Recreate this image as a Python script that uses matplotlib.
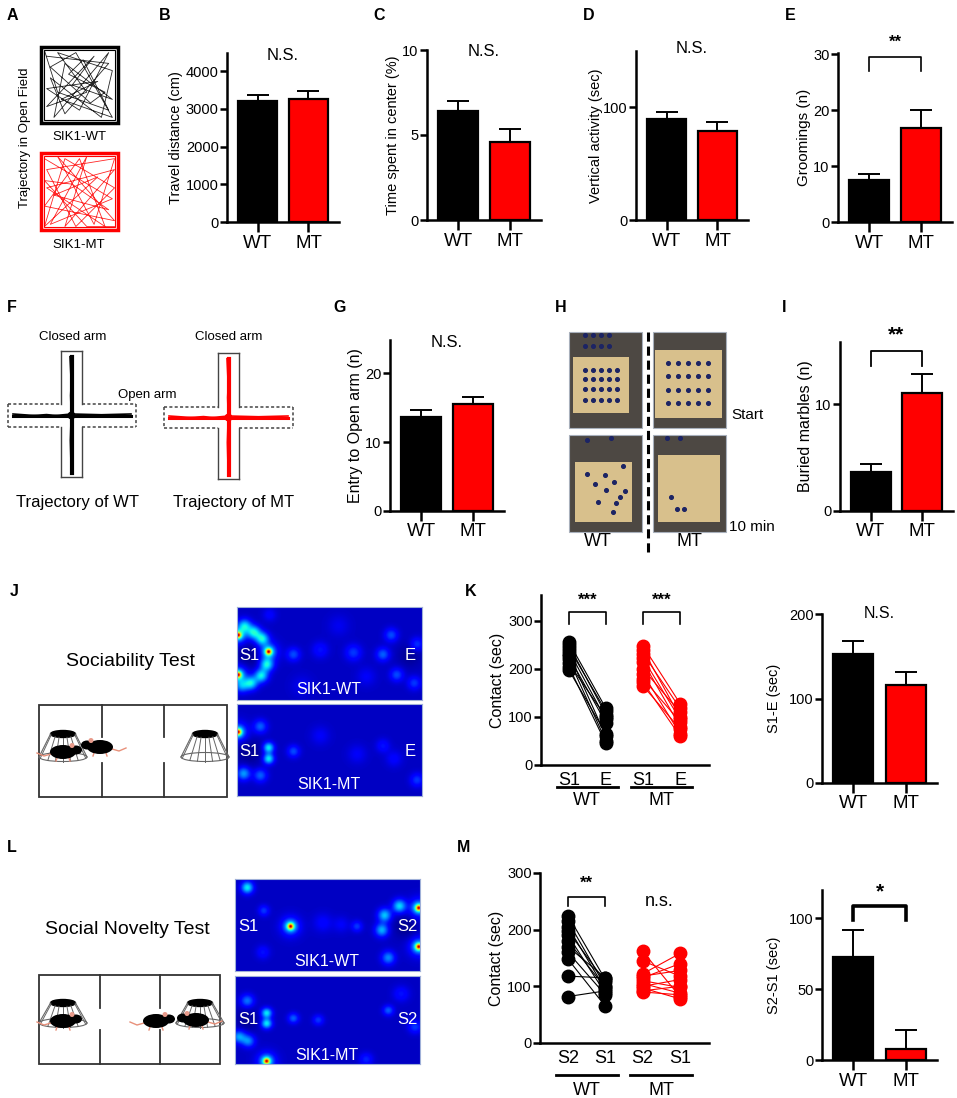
import matplotlib
matplotlib.use("Agg")
import matplotlib.pyplot as plt
import numpy as np
from matplotlib.patches import Rectangle, Ellipse

plt.rcParams['font.family'] = ['Liberation Sans', 'DejaVu Sans']

W, H = 957, 1098
RED = '#ff0000'

# ---------------- data ----------------
groups = ['WT', 'MT']
travel_mean = [3205, 3250]
travel_sem = [160, 228]
center_mean = [6.4, 4.6]
center_sem = [0.6, 0.75]
vertical_mean = [90, 79]
vertical_sem = [6, 8]
groom_mean = [7.5, 16.8]
groom_sem = [1.1, 3.2]
entry_mean = [13.6, 15.5]
entry_sem = [1.0, 1.0]
marble_mean = [3.6, 11.0]
marble_sem = [0.8, 1.8]
s1e_mean = [153, 116]
s1e_sem = [15, 15]
s2s1_mean = [73, 7.5]
s2s1_sem = [19, 13.5]

soc_wt_s1 = [256, 250, 244, 238, 232, 226, 220, 212, 205, 198]
soc_wt_e = [118, 105, 112, 95, 60, 88, 50, 100, 45, 65]
soc_mt_s1 = [248, 240, 232, 222, 215, 200, 190, 180, 172, 165]
soc_mt_e = [128, 100, 118, 95, 80, 110, 65, 90, 60, 75]

nov_wt_s2 = [225, 215, 205, 198, 190, 180, 170, 160, 148, 118, 82]
nov_wt_s1 = [112, 100, 95, 108, 88, 98, 115, 85, 65, 115, 92]
nov_mt_s2 = [162, 145, 122, 115, 110, 105, 100, 97, 92, 90, 118]
nov_mt_s1 = [82, 118, 158, 140, 98, 88, 112, 78, 100, 85, 128]

# open field trajectories (fraction of arena)
of_wt_path = [(0.05, 0.1), (0.9, 0.2), (0.3, 0.9), (0.1, 0.4), (0.8, 0.95), (0.95, 0.3),
              (0.2, 0.05), (0.6, 0.6), (0.05, 0.8), (0.7, 0.1), (0.4, 0.5), (0.95, 0.7),
              (0.3, 0.2), (0.15, 0.95), (0.9, 0.05), (0.5, 0.85), (0.05, 0.55), (0.75, 0.45),
              (0.25, 0.7), (0.95, 0.95), (0.45, 0.05), (0.1, 0.25), (0.65, 0.75), (0.85, 0.6),
              (0.35, 0.35), (0.55, 0.15), (0.9, 0.85), (0.2, 0.6), (0.02, 0.02)]
of_mt_path = [(0.02, 0.05), (0.95, 0.6), (0.1, 0.95), (0.6, 0.02), (0.3, 0.98), (0.98, 0.2),
              (0.05, 0.45), (0.85, 0.98), (0.5, 0.05), (0.02, 0.7), (0.98, 0.9), (0.2, 0.02),
              (0.7, 0.95), (0.98, 0.05), (0.05, 0.2), (0.45, 0.98), (0.98, 0.45), (0.3, 0.05),
              (0.02, 0.98), (0.75, 0.3), (0.15, 0.55), (0.9, 0.75), (0.4, 0.4), (0.02, 0.35),
              (0.6, 0.98), (0.98, 0.98)]

# marble positions inside photos (fraction of photo)
marble_cols_tl = [0.22, 0.33, 0.44, 0.55, 0.66]
marble_rows_tl = [0.40, 0.49, 0.59, 0.71]
marble_cols_tr = [0.21, 0.34, 0.48, 0.62, 0.75]
marble_rows_tr = [0.32, 0.46, 0.60, 0.74]
marbles_bl = [(0.74, 0.32), (0.24, 0.40), (0.49, 0.41), (0.61, 0.48), (0.36, 0.50), (0.51, 0.57),
              (0.77, 0.58), (0.70, 0.64), (0.40, 0.69), (0.65, 0.70), (0.60, 0.79),
              (0.24, 0.05), (0.58, 0.03)]
marbles_br = [(0.25, 0.64), (0.33, 0.76), (0.42, 0.76), (0.19, 0.03), (0.37, 0.03)]

# heat-map hot spots (x 0..2, y 0..1) and dwell rings (x, y, amplitude, width)
hot_soc_wt = [(0.01, 0.30), (0.01, 0.73), (0.34, 0.48)]
ring_soc_wt = [(0.08, 0.20, 0.26, 0.05), (0.18, 0.27, 0.3, 0.05), (0.27, 0.34, 0.3, 0.05),
               (0.32, 0.62, 0.3, 0.05), (0.26, 0.74, 0.3, 0.05), (0.15, 0.82, 0.28, 0.05),
               (0.05, 0.85, 0.2, 0.05), (0.13, 0.52, -0.05, 0.1),
               (0.61, 0.51, 0.14, 0.05), (0.90, 0.46, 0.08, 0.06), (1.26, 0.49, 0.12, 0.06),
               (1.58, 0.51, 0.16, 0.05), (1.67, 0.30, 0.14, 0.05), (1.73, 0.73, 0.14, 0.05),
               (1.95, 0.40, 0.12, 0.05), (1.92, 0.82, 0.12, 0.05), (0.35, 0.08, 0.06, 0.05),
               (1.1, 0.2, 0.04, 0.08), (1.4, 0.75, 0.05, 0.07), (0.7, 0.85, 0.04, 0.08),
               (1.87, 0.52, -0.04, 0.09)]
hot_soc_mt = [(0.01, 0.31)]
ring_soc_mt = [(0.34, 0.48, 0.3, 0.04), (0.34, 0.60, 0.3, 0.04), (0.07, 0.76, 0.22, 0.05),
               (0.61, 0.52, 0.14, 0.045), (1.58, 0.46, 0.08, 0.05), (1.95, 0.83, 0.12, 0.05),
               (0.25, 0.25, 0.16, 0.05), (0.25, 0.78, 0.16, 0.05), (0.9, 0.35, 0.05, 0.07),
               (1.3, 0.55, 0.05, 0.07), (0.13, 0.52, -0.05, 0.1), (1.7, 0.6, 0.06, 0.06)]
hot_nov_wt = [(0.60, 0.52), (1.99, 0.32), (1.99, 0.74)]
ring_nov_wt = [(0.13, 0.10, 0.3, 0.045), (1.78, 0.30, 0.28, 0.05), (1.62, 0.40, 0.26, 0.05),
               (1.59, 0.56, 0.24, 0.05), (1.66, 0.86, 0.2, 0.05), (1.32, 0.52, 0.12, 0.04),
               (0.31, 0.35, 0.12, 0.04), (0.95, 0.48, 0.06, 0.07), (0.3, 0.8, 0.08, 0.05),
               (1.85, 0.52, -0.05, 0.09), (1.15, 0.5, 0.05, 0.06)]
hot_nov_mt = [(0.34, 0.97)]
ring_nov_mt = [(0.34, 0.42, 0.3, 0.04), (0.34, 0.54, 0.3, 0.04), (0.13, 0.28, 0.18, 0.05),
               (0.04, 0.69, 0.22, 0.05), (0.14, 0.74, 0.2, 0.05), (0.63, 0.48, 0.16, 0.04),
               (0.90, 0.50, 0.12, 0.04), (1.66, 0.39, 0.16, 0.04), (1.95, 0.58, 0.12, 0.05),
               (1.42, 0.95, 0.1, 0.05), (1.8, 0.2, 0.08, 0.06), (0.13, 0.50, -0.04, 0.09)]

# ---------------- helpers ----------------
fig = plt.figure(figsize=(W / 100, H / 100), dpi=100)
ov = fig.add_axes([0, 0, 1, 1])
ov.set_xlim(0, W)
ov.set_ylim(H, 0)
ov.axis('off')


def px_axes(x0, y0, x1, y1):
    return fig.add_axes([x0 / W, 1 - y1 / H, (x1 - x0) / W, (y1 - y0) / H])


def style_axes(ax, ymax, yticks):
    for s in ['top', 'right']:
        ax.spines[s].set_visible(False)
    for s in ['left', 'bottom']:
        ax.spines[s].set_linewidth(1.8)
    ax.set_ylim(0, ymax)
    ax.set_yticks(yticks)
    ax.tick_params(axis='y', length=5, width=1.8, labelsize=10.5, pad=1)
    ax.patch.set_alpha(0)


def bar_panel(box, ymax, yticks, means, sems, ylabel, lab_fs=10.5, lab_pad=2):
    ax = px_axes(*box)
    style_axes(ax, ymax, yticks)
    ax.bar([0, 1], means, width=0.77, color=['black', RED], edgecolor='black',
           linewidth=1.6, zorder=2)
    ax.errorbar([0, 1], means, yerr=[[0, 0], sems], fmt='none', ecolor='black',
                elinewidth=1.4, capsize=8, capthick=1.4, zorder=3, clip_on=False)
    ax.set_xlim(-0.6, 1.6)
    ax.set_xticks([0, 1])
    ax.set_xticklabels(groups)
    ax.tick_params(axis='x', length=7, width=1.8, labelsize=13.5, pad=2)
    ax.set_ylabel(ylabel, fontsize=lab_fs, labelpad=lab_pad)
    return ax


def bracket(ax, x0, x1, ylo, yhi, stars, ystar, lw=1.2, fs=12):
    ax.plot([x0, x0, x1, x1], [ylo, yhi, yhi, ylo], color='black', lw=lw, clip_on=False)
    ax.text((x0 + x1) / 2, ystar, stars, ha='center', va='center', fontsize=fs,
            fontweight='bold', clip_on=False)


def paired_panel(box, ymax, yticks, pairs, ticklabels, under_y, group_y):
    ax = px_axes(*box)
    style_axes(ax, ymax, yticks)
    ax.set_xlim(-0.75, 3.78)
    for k, (a, b, col, lw) in enumerate(pairs):
        for va, vb in zip(a, b):
            ax.plot([2 * k, 2 * k + 1], [va, vb], color=col, lw=lw, zorder=2)
        ax.plot([2 * k] * len(a), a, 'o', color=col, ms=9, zorder=3, clip_on=False)
        ax.plot([2 * k + 1] * len(b), b, 'o', color=col, ms=9, zorder=3, clip_on=False)
    ax.set_xticks([0, 1, 2, 3])
    ax.set_xticklabels(ticklabels)
    ax.tick_params(axis='x', length=0, labelsize=13, pad=5)
    tr = ax.get_xaxis_transform()
    for k, g in enumerate(groups):
        ax.plot([2 * k - 0.33, 2 * k + 1.33], [under_y, under_y], color='black', lw=2,
                transform=tr, clip_on=False)
        ax.text(2 * k + 0.5, group_y, g, transform=tr, ha='center', va='center', fontsize=13)
    ax.set_ylabel('Contact (sec)', fontsize=11.5, labelpad=2)
    return ax


def heatmap(box, hots, rings, labels):
    ax = px_axes(*box)
    gx, gy = np.meshgrid(np.linspace(0, 2, 280), np.linspace(0, 1, 140))
    z = np.full(gx.shape, 0.06)
    spots = list(rings)
    for x, y in hots:
        spots += [(x, y, 0.55, 0.02), (x, y, 0.25, 0.045), (x, y, 0.12, 0.08)]
    for x, y, a, s in spots:
        z += a * np.exp(-((gx - x) ** 2 + (gy - y) ** 2) / (2 * s * s))
    ax.imshow(np.clip(z, 0.02, 0.96), cmap='jet', vmin=0, vmax=1, extent=(0, 2, 1, 0),
              aspect='auto', interpolation='bilinear')
    ax.set_xticks([])
    ax.set_yticks([])
    for s in ax.spines.values():
        s.set_color('#9fb0d8')
        s.set_linewidth(0.8)
    for x, y, t, fs in labels:
        ax.text(x, y, t, color='white', ha='center', va='center', fontsize=fs)
    return ax


def cage(cx, ytop, ybot):
    tw, bw = 12.5, 24
    ov.add_patch(Ellipse((cx, ybot), 2 * bw, 9, fill=False, ec='#666666', lw=0.8))
    for f in np.linspace(-0.95, 0.95, 7):
        ov.plot([cx + f * tw, cx + f * bw],
                [ytop + 3.5 * np.sqrt(1 - f * f), ybot + 4.5 * np.sqrt(1 - f * f)],
                color='#666666', lw=0.7)
    ov.plot([cx - tw, cx - bw], [ytop, ybot], color='#666666', lw=0.8)
    ov.plot([cx + tw, cx + bw], [ytop, ybot], color='#666666', lw=0.8)
    ov.add_patch(Ellipse((cx, ytop), 2 * tw, 7, fc='black', ec='black'))


def mouse(cx, cy, facing):
    ov.plot([cx - facing * 12, cx - facing * 19, cx - facing * 26],
            [cy + 2, cy + 4, cy + 1], color='#e8907a', lw=1, zorder=4)
    ov.add_patch(Ellipse((cx, cy), 26, 14, fc='black', zorder=5))
    ov.add_patch(Ellipse((cx + facing * 13, cy - 2), 12, 9, fc='black', zorder=5))
    ov.add_patch(Ellipse((cx + facing * 9, cy - 6.5), 5, 5, fc='#e89a8a', zorder=6))
    ov.plot([cx - 6, cx - 7], [cy + 6, cy + 9], color='#e8907a', lw=1, zorder=4)
    ov.plot([cx + 6, cx + 7], [cy + 6, cy + 9], color='#e8907a', lw=1, zorder=4)


def arena(x0, y0, x1, y1, d1, d2, gap0, gap1):
    ov.add_patch(Rectangle((x0, y0), x1 - x0, y1 - y0, fill=False, ec='#333333', lw=1.3))
    for d in (d1, d2):
        ov.plot([d, d], [y0, gap0], color='#333333', lw=1.3)
        ov.plot([d, d], [gap1, y1], color='#333333', lw=1.3)


def photo(x0, y0, x1, y1, bed, marbles):
    w, h = x1 - x0, y1 - y0
    ov.add_patch(Rectangle((x0, y0), w, h, fc='#4d4843', ec='#a8b0bc', lw=0.8))
    bx0, by0, bx1, by1 = bed
    ov.add_patch(Rectangle((x0 + bx0 * w, y0 + by0 * h), (bx1 - bx0) * w, (by1 - by0) * h,
                           fc='#d8c08c', ec='none'))
    ov.scatter([x0 + u * w for u, v in marbles], [y0 + v * h for u, v in marbles],
               s=7, c='#1c2464', zorder=3)


def cross_maze(cx0, cx1, cy0, cy1, ox0, ox1, oy0, oy1, color):
    c = '#444444'
    ov.plot([cx0, cx1], [cy0, cy0], color=c, lw=1)
    ov.plot([cx0, cx1], [cy1, cy1], color=c, lw=1)
    for x in (cx0, cx1):
        ov.plot([x, x], [cy0, oy0], color=c, lw=1)
        ov.plot([x, x], [oy1, cy1], color=c, lw=1)
    dash = dict(color=c, lw=1.1, ls=(0, (2, 1.5)))
    for y in (oy0, oy1):
        ov.plot([ox0, cx0], [y, y], **dash)
        ov.plot([cx1, ox1], [y, y], **dash)
    ov.plot([ox0, ox0], [oy0, oy1], **dash)
    ov.plot([ox1, ox1], [oy0, oy1], **dash)
    mx, my = (cx0 + cx1) / 2, (oy0 + oy1) / 2
    for dx, lw in [(-1.2, 1.6), (0, 3), (1.2, 1.6)]:
        ov.plot([mx + dx, mx - dx * 0.5, mx + dx * 0.7, mx],
                [cy0 + 6, my - 20, my + 25, cy1 - 4], color=color, lw=lw)
    for dy, lw in [(-1.5, 1.2), (0, 2.2), (1.5, 1.2)]:
        ov.plot([ox0 + 5, mx - 25, mx, mx + 30, ox1 - 5],
                [my + dy, my - dy * 0.6, my + dy, my + dy * 0.5, my + dy], color=color, lw=lw)
    ov.add_patch(Ellipse((mx, my), 8, 8, fc=color, ec='none'))


# ---------------- panel letters ----------------
for x, y, t in [(7, 15, 'A'), (159, 15, 'B'), (373, 15, 'C'), (583, 15, 'D'), (785, 15, 'E'),
                (7, 307, 'F'), (333, 307, 'G'), (555, 307, 'H'), (782, 307, 'I'),
                (10, 591, 'J'), (465, 591, 'K'), (7, 847, 'L'), (457, 847, 'M')]:
    ov.text(x, y, t, fontsize=11.5, fontweight='bold', ha='left', va='center')

# ---------------- A ----------------
for (y0, y1), path, col, lab, ly in [((47, 123), of_wt_path, 'black', 'SIK1-WT', 137),
                                     ((153, 230), of_mt_path, RED, 'SIK1-MT', 245)]:
    ov.add_patch(Rectangle((41, y0), 77, y1 - y0, fill=False, ec=col, lw=2.5))
    ov.add_patch(Rectangle((44, y0 + 3), 71, y1 - y0 - 6, fill=False, ec=col, lw=0.8))
    ov.plot([43 + u * 73 for u, v in path], [y0 + 2 + v * (y1 - y0 - 4) for u, v in path],
            color=col, lw=0.6, alpha=0.85)
    ov.text(79, ly, lab, ha='center', va='center', fontsize=9.5)
ov.text(25, 138, 'Trajectory in Open Field', rotation=90, ha='center', va='center', fontsize=9.5)

# ---------------- B-E ----------------
axB = bar_panel((227, 53, 339, 222), 4477, [0, 1000, 2000, 3000, 4000], travel_mean, travel_sem,
                'Travel distance (cm)')
axB.text(0.5, 4400, 'N.S.', ha='center', va='center', fontsize=12)
axC = bar_panel((427, 50, 541, 220), 10, [0, 5, 10], center_mean, center_sem,
                'Time spent in center (%)')
axC.text(0.5, 9.9, 'N.S.', ha='center', va='center', fontsize=12)
axD = bar_panel((636, 51, 748, 220), 150, [0, 100], vertical_mean, vertical_sem,
                'Vertical activity (sec)', lab_pad=0)
axD.text(0.5, 152, 'N.S.', ha='center', va='center', fontsize=12)
axE = bar_panel((838, 53, 952, 222), 30.2, [0, 10, 20, 30], groom_mean, groom_sem,
                'Groomings (n)', lab_fs=11)
bracket(axE, 0, 1, 27, 29.5, '**', 32.2)

# ---------------- F ----------------
cross_maze(61, 82, 351, 477, 8, 136, 404, 427, 'black')
cross_maze(218, 239, 353, 479, 164, 293, 407, 428, RED)
ov.text(73, 337, 'Closed arm', ha='center', va='center', fontsize=9.5)
ov.text(229, 337, 'Closed arm', ha='center', va='center', fontsize=9.5)
ov.text(147, 395, 'Open arm', ha='center', va='center', fontsize=9.5)
ov.text(78, 503, 'Trajectory of WT', ha='center', va='center', fontsize=12)
ov.text(234, 503, 'Trajectory of MT', ha='center', va='center', fontsize=12)

# ---------------- G ----------------
axG = bar_panel((390, 340, 504, 511), 24.8, [0, 10, 20], entry_mean, entry_sem,
                'Entry to Open arm (n)', lab_fs=11.5)
axG.text(0.5, 24.5, 'N.S.', ha='center', va='center', fontsize=12)

# ---------------- H ----------------
grid_tl = [(u, v) for v in marble_rows_tl for u in marble_cols_tl] + \
          [(u, v) for v in (0.03, 0.15) for u in marble_cols_tl[:4]]
grid_tr = [(u, v) for v in marble_rows_tr for u in marble_cols_tr]
photo(569, 332, 642, 428, (0.05, 0.26, 0.82, 0.84), grid_tl)
photo(653, 332, 726, 428, (0.03, 0.19, 0.95, 0.90), grid_tr)
photo(569, 435, 642, 532, (0.08, 0.28, 0.86, 0.90), marbles_bl)
photo(653, 435, 726, 532, (0.07, 0.21, 0.92, 0.90), marbles_br)
ov.plot([647.5, 647.5], [332, 553], color='black', lw=2.2, ls=(0, (3, 1.6)))
ov.text(731, 415, 'Start', ha='left', va='center', fontsize=11)
ov.text(729, 527, '10 min', ha='left', va='center', fontsize=11)
ov.text(598, 542, 'WT', ha='center', va='center', fontsize=13)
ov.text(689, 542, 'MT', ha='center', va='center', fontsize=13)

# ---------------- I ----------------
axI = bar_panel((840, 342, 953, 511), 15.8, [0, 10], marble_mean, marble_sem,
                'Buried marbles (n)', lab_fs=11.5)
bracket(axI, 0, 1, 13.55, 14.95, '**', 16.5, lw=1.3, fs=15)

# ---------------- J ----------------
ov.text(130, 662, 'Sociability Test', ha='center', va='center', fontsize=14)
arena(39, 705, 227, 797, 102, 164, 737, 763)
cage(63, 734, 757)
cage(205, 734, 757)
mouse(63, 752, 1)
mouse(100, 747, -1)
heatmap((237, 607, 422, 700), hot_soc_wt, ring_soc_wt,
        [(0.13, 0.52, 'S1', 12), (1.87, 0.52, 'E', 12), (0.99, 0.885, 'SIK1-WT', 11.5)])
heatmap((237, 704, 422, 796), hot_soc_mt, ring_soc_mt,
        [(0.13, 0.52, 'S1', 12), (1.87, 0.52, 'E', 12), (0.99, 0.88, 'SIK1-MT', 11.5)])

# ---------------- K ----------------
axK = paired_panel((541, 595, 709, 765), 354, [0, 100, 200, 300],
                   [(soc_wt_s1, soc_wt_e, 'black', 0.8), (soc_mt_s1, soc_mt_e, RED, 0.8)],
                   ['S1', 'E', 'S1', 'E'], -0.13, -0.21)
bracket(axK, 0, 1, 294, 319, '***', 344)
bracket(axK, 2, 3, 294, 319, '***', 344)

axK2 = bar_panel((822, 614, 937, 783), 200, [0, 100, 200], s1e_mean, s1e_sem, 'S1-E (sec)',
                 lab_fs=10.5, lab_pad=6)
axK2.text(0.5, 201, 'N.S.', ha='center', va='center', fontsize=11.5)

# ---------------- L ----------------
ov.text(127, 929, 'Social Novelty Test', ha='center', va='center', fontsize=14)
arena(39, 975, 220, 1064, 100, 160, 1008, 1030)
cage(63, 1003, 1023)
cage(200, 1003, 1023)
mouse(63, 1021, 1)
mouse(196, 1020, -1)
mouse(156, 1021, 1)
heatmap((235, 879, 420, 971), hot_nov_wt, ring_nov_wt,
        [(0.15, 0.52, 'S1', 12), (1.86, 0.52, 'S2', 12), (0.99, 0.90, 'SIK1-WT', 11.5)])
heatmap((235, 976, 420, 1064), hot_nov_mt, ring_nov_mt,
        [(0.15, 0.50, 'S1', 12), (1.86, 0.50, 'S2', 12), (0.99, 0.90, 'SIK1-MT', 11.5)])

# ---------------- M ----------------
axM = paired_panel((540, 873, 709, 1043), 300, [0, 100, 200, 300],
                   [(nov_wt_s2, nov_wt_s1, 'black', 0.8), (nov_mt_s2, nov_mt_s1, RED, 0.8)],
                   ['S2', 'S1', 'S2', 'S1'], -0.19, -0.28)
bracket(axM, 0, 1, 241.6, 257.5, '**', 282)
axM.text(2.45, 249, 'n.s.', ha='center', va='center', fontsize=13)

axM2 = bar_panel((822, 890, 937, 1060), 120, [0, 50, 100], s2s1_mean, s2s1_sem, 'S2-S1 (sec)',
                 lab_fs=10.5, lab_pad=6)
bracket(axM2, 0, 1, 98.6, 108.5, '*', 119, lw=2.6, fs=15)

fig.savefig('out.png', dpi=100)
